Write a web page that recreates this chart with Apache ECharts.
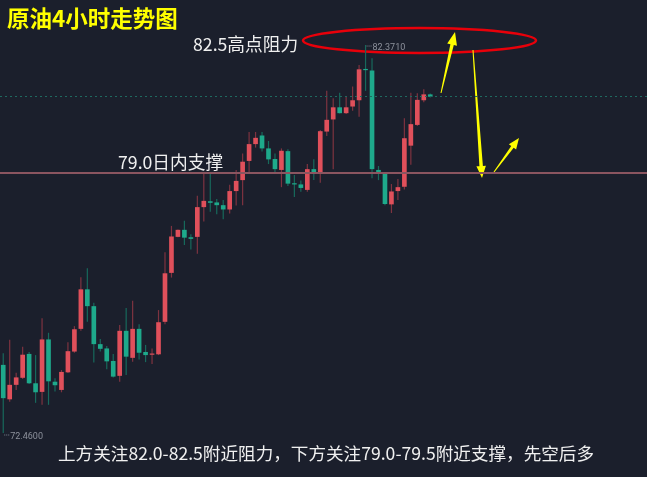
<!DOCTYPE html>
<html>
<head>
<meta charset="utf-8">
<script src="https://cdn.jsdelivr.net/npm/echarts@6/dist/echarts.min.js"></script>
<style>
html,body{margin:0;padding:0;background:#1b1f2c;}
#c{width:647px;height:477px;}
</style>
</head>
<body>
<div id="c"></div>
<script>
// ---- data ----
const opens = [74.20,73.32,73.69,73.87,74.48,73.73,73.51,74.85,73.77,73.56,74.01,74.54,75.12,76.13,75.70,74.73,74.62,74.30,73.92,75.07,74.38,75.12,74.53,74.46,74.47,75.30,76.55,77.47,77.65,77.46,77.47,78.23,78.38,78.35,78.28,78.17,78.64,78.92,79.41,79.84,80.06,79.73,79.46,79.18,79.66,78.84,78.81,78.67,79.20,79.11,80.16,80.47,80.78,80.63,80.80,80.96,81.76,81.72,79.18,79.08,78.30,78.64,78.75,79.80,80.33,80.96,81.11];
const closes = [73.35,73.69,73.88,74.46,73.73,73.50,74.85,73.78,73.68,74.02,74.55,75.11,76.13,75.70,74.73,74.61,74.29,73.90,75.07,74.41,75.12,74.51,74.45,74.49,75.29,76.54,77.48,77.65,77.45,77.42,78.23,78.39,78.34,78.28,78.17,78.64,78.90,79.39,79.84,80.00,79.73,79.45,79.20,79.67,78.83,78.81,78.72,79.20,79.11,80.17,80.46,80.78,80.63,80.78,80.96,81.75,81.73,79.20,79.09,78.31,78.63,78.74,79.99,80.35,80.97,81.11,81.05];
const highs = [74.50,74.84,74.00,74.66,74.53,74.45,75.39,75.02,73.86,74.07,74.78,75.19,76.44,76.67,75.79,74.86,74.68,74.48,75.22,75.65,75.84,75.24,74.71,74.62,75.60,77.08,77.75,77.66,77.88,77.54,78.52,79.09,79.09,78.44,78.41,78.80,79.18,79.60,80.15,80.15,80.15,79.92,79.60,79.73,79.71,79.05,78.91,79.33,79.45,80.20,81.20,81.01,81.15,81.05,81.31,81.86,82.371,82.03,79.28,79.11,78.82,78.95,80.50,81.15,81.14,81.24,81.13];
const lows = [72.46,73.26,73.56,73.84,73.71,73.23,73.18,73.18,73.52,73.50,73.99,74.51,75.07,75.30,74.26,74.54,74.09,73.88,73.77,73.94,74.28,74.34,74.27,74.22,74.45,75.24,76.43,77.46,77.26,77.15,77.04,77.86,78.11,78.05,77.92,78.07,78.27,78.28,79.08,79.75,79.65,79.33,79.10,78.74,78.77,78.49,78.62,78.62,78.92,78.85,80.05,79.20,80.62,80.61,80.69,80.54,81.20,78.97,78.92,78.28,78.08,78.41,78.68,79.31,80.30,80.91,81.03];
const slotCount = 100;           // category slots (empty ones on the right)
const categories = Array.from({length: slotCount}, (_, i) => String(i + 1));
const supportLevel = 79.10;      // drawn support line
const lastPrice = 81.05;         // dotted current price line
const highLabel = '82.3710';
const lowLabel = '72.4600';
const titleText = '原油4小时走势图';
const resistText = '82.5高点阻力';
const supportText = '79.0日内支撑';
const noteText = '上方关注82.0-82.5附近阻力，下方关注79.0-79.5附近支撑，先空后多';

const UP = '#e0505b', DOWN = '#1ea98b', UPW = '#7e3340', DOWNW = '#17695c';

const candleData = opens.map((o, i) => [i, o, closes[i], lows[i], highs[i]]);

const chart = echarts.init(document.getElementById('c'), null, {renderer: 'canvas'});
chart.setOption({
  backgroundColor: '#1b1f2c',
  animation: false,
  grid: {left: -0.94, right: 0, top: 20.4, bottom: 26},
  xAxis: {type: 'category', data: categories, boundaryGap: true, show: false},
  yAxis: {type: 'value', min: 72, max: 83, show: false, splitLine: {show: false}},
  series: [
    {
      type: 'custom',
      data: candleData,
      encode: {x: 0, y: [1, 2, 3, 4]},
      renderItem: function (params, api) {
        const i = api.value(0);
        const o = api.value(1), c = api.value(2), l = api.value(3), h = api.value(4);
        const pO = api.coord([i, o]), pC = api.coord([i, c]);
        const pL = api.coord([i, l]), pH = api.coord([i, h]);
        const bw = api.size([1, 0])[0] * 0.72;
        const up = c >= o;
        const x = pO[0];
        const top = Math.min(pO[1], pC[1]);
        const hgt = Math.max(1.2, Math.abs(pO[1] - pC[1]));
        return {
          type: 'group',
          children: [
            {type: 'line', shape: {x1: x, y1: pH[1], x2: x, y2: pL[1]},
             style: {stroke: up ? UPW : DOWNW, lineWidth: 1.2}},
            {type: 'rect', shape: {x: x - bw / 2, y: top, width: bw, height: hgt},
             style: {fill: up ? UP : DOWN}}
          ]
        };
      }
    },
    {
      type: 'line',
      data: [],
      markLine: {
        silent: true,
        symbol: ['none', 'none'],
        label: {show: false},
        data: [
          {yAxis: supportLevel, lineStyle: {color: '#8b5560', width: 2, type: 'solid'}},
          {yAxis: lastPrice, lineStyle: {color: '#1f6a60', width: 1, type: [2, 3]}}
        ]
      }
    }
  ]
});

function arrow(sx, sy, tx, ty, w0, w1, hw, hl) {
  const dx = tx - sx, dy = ty - sy, len = Math.hypot(dx, dy);
  const ux = dx / len, uy = dy / len, nx = -uy, ny = ux;
  const bx = tx - ux * hl, by = ty - uy * hl;
  return [
    [sx + nx * w0 / 2, sy + ny * w0 / 2],
    [bx + nx * w1 / 2, by + ny * w1 / 2],
    [bx + nx * hw / 2, by + ny * hw / 2],
    [tx, ty],
    [bx - nx * hw / 2, by - ny * hw / 2],
    [bx - nx * w1 / 2, by - ny * w1 / 2],
    [sx - nx * w0 / 2, sy - ny * w0 / 2]
  ];
}

const hiIdx = highs.indexOf(Math.max(...highs));
const loIdx = lows.indexOf(Math.min(...lows));
const pHi = chart.convertToPixel({gridIndex: 0}, [hiIdx, highs[hiIdx]]);
const pLo = chart.convertToPixel({gridIndex: 0}, [loIdx, lows[loIdx]]);

const cjk = "'Noto Sans CJK SC', 'Noto Sans', sans-serif";
chart.setOption({
  graphic: [
    {type: 'text', left: 7, top: 7, style: {text: titleText, fill: '#ffff00', font: "bold 22.5px " + cjk}},
    {type: 'text', x: 193, y: 44, style: {text: resistText, fill: '#f0f0f0', font: "17.7px " + cjk, textVerticalAlign: 'middle'}},
    {type: 'text', x: 118, y: 162, style: {text: supportText, fill: '#f0f0f0', font: "17.7px " + cjk, textVerticalAlign: 'middle'}},
    {type: 'text', x: 58, y: 453, style: {text: noteText, fill: '#f0f0f0', font: "17.6px " + cjk, textVerticalAlign: 'middle'}},
    // high / low labels
    {type: 'line', shape: {x1: pHi[0] + 1, y1: pHi[1] + 1, x2: pHi[0] + 6, y2: pHi[1] + 1}, style: {stroke: '#7d8290', lineWidth: 1, lineDash: [1, 1]}},
    {type: 'text', x: pHi[0] + 7, y: pHi[1] + 2.5, style: {text: highLabel, fill: '#8d919c', font: "9px 'Roboto', sans-serif", textVerticalAlign: 'middle'}},
    {type: 'line', shape: {x1: pLo[0] + 1, y1: pLo[1] + 2, x2: pLo[0] + 6, y2: pLo[1] + 2}, style: {stroke: '#7d8290', lineWidth: 1, lineDash: [1, 1]}},
    {type: 'text', x: pLo[0] + 7, y: pLo[1] + 3.5, style: {text: lowLabel, fill: '#8d919c', font: "9px 'Roboto', sans-serif", textVerticalAlign: 'middle'}},
    // resistance ellipse
    {type: 'ellipse', shape: {cx: 419.5, cy: 40.5, rx: 116.5, ry: 12.5}, style: {stroke: '#e8000a', lineWidth: 2.5, fill: 'none'}},
    // yellow arrows
    {type: 'polygon', shape: {points: arrow(441, 93, 455, 32, 1, 3.5, 10, 13)}, style: {fill: '#ffff00'}},
    {type: 'polygon', shape: {points: arrow(473, 50, 482, 178, 1, 3.5, 9.5, 12)}, style: {fill: '#ffff00'}},
    {type: 'polygon', shape: {points: arrow(494, 172, 519, 138, 1, 3, 9, 11)}, style: {fill: '#ffff00'}}
  ]
});
</script>
</body>
</html>
